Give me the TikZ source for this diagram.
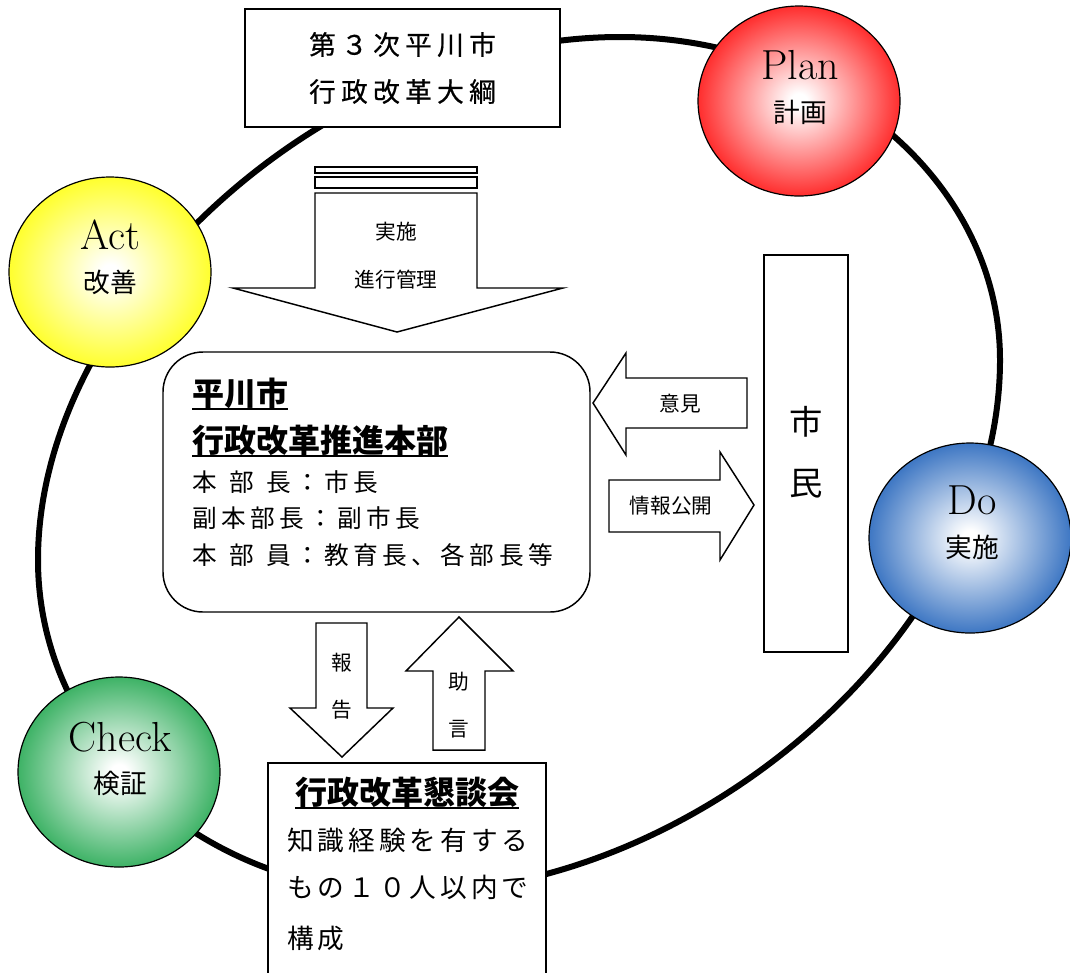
\documentclass[tikz,border=0pt]{standalone}
\usepackage{fontspec}
\usepackage{tikz}
\usetikzlibrary{shapes.geometric}

\newfontfamily\jp{Noto Sans CJK JP}
\newfontfamily\jpwide{Noto Sans CJK JP}[LetterSpace=20, FakeBold=0.6]
\newfontfamily\jpmid{Noto Sans CJK JP}[LetterSpace=18]
\newfontfamily\jpsoft{Noto Sans CJK JP}[LetterSpace=15]

\definecolor{planred}{RGB}{255,0,0}
\definecolor{actyellow}{RGB}{255,255,0}
\definecolor{doblue}{RGB}{28,95,185}
\definecolor{checkgreen}{RGB}{28,165,75}

\pgfdeclareradialshading{planball}{\pgfpoint{0bp}{0bp}}{color(0bp)=(white); color(2bp)=(white); color(30bp)=(planred); color(50bp)=(planred)}
\pgfdeclareradialshading{actball}{\pgfpoint{0bp}{0bp}}{color(0bp)=(white); color(2bp)=(white); color(30bp)=(actyellow); color(50bp)=(actyellow)}
\pgfdeclareradialshading{doball}{\pgfpoint{0bp}{0bp}}{color(0bp)=(white); color(2bp)=(white); color(29bp)=(doblue); color(50bp)=(doblue)}
\pgfdeclareradialshading{checkball}{\pgfpoint{0bp}{0bp}}{color(0bp)=(white); color(2bp)=(white); color(29bp)=(checkgreen); color(50bp)=(checkgreen)}

\newcommand{\ulbox}[1]{\setbox0\hbox{#1}\rlap{\smash{\rule[-3.5pt]{\wd0}{1.5pt}}}\box0}

\tikzset{
  ring/.style={line width=4.5pt},
  box/.style={draw, line width=1.1pt, fill=white},
  blockarrow/.style={draw, line width=1.1pt, fill=white, line join=miter},
  ball/.style={ellipse, draw, line width=0.9pt, minimum width=151.5pt, minimum height=142.5pt, inner sep=0pt, shading=#1},
  balltext/.style={font=\fontsize{31.5}{31.5}\selectfont, inner sep=0pt},
  balljp/.style={font=\jp\fontsize{20}{20}\selectfont, inner sep=0pt},
  armlabel/.style={font=\jp\fontsize{15.5}{15.5}\selectfont, inner sep=0pt},
  headjp/.style={font=\jp\bfseries\fontsize{24}{24}\selectfont, inner sep=0pt},
  bodyjp/.style={font=\jpmid\fontsize{18.5}{18.5}\selectfont, inner sep=0pt, anchor=west},
  softjp/.style={font=\jpsoft\fontsize{20}{20}\selectfont, inner sep=0pt, anchor=west}
}

\begin{document}
\begin{tikzpicture}[x=0.75pt,y=-0.75pt]
\useasboundingbox (0,0) rectangle (1070,972);
%PDCA ring
\draw[ring] (620,37) .. controls (830,37) and (1000,182) .. (1000,360)
  .. controls (1000,630) and (700,893) .. (407,893)
  .. controls (203,893) and (38,744) .. (38,560)
  .. controls (38,300) and (330,37) .. cycle;

%Boxes
\draw[box] (245,9) rectangle node[align=center, font=\jpwide\fontsize{20}{35.25}\selectfont] (taiko) {第３次平川市\\行政改革大綱} (560,127);
\draw[box, rounded corners=30pt] (163,352) rectangle (590,612);
\node[headjp, anchor=west] (hq1) at (192,393) {\ulbox{平川市}};
\node[headjp, anchor=west] (hq2) at (192,440) {\ulbox{行政改革推進本部}};
\node[bodyjp] (hq3) at (192,482) {本\hspace{.5em}部\hspace{.5em}長：市長};
\node[bodyjp] (hq4) at (192,518) {副本部長：副市長};
\node[bodyjp] (hq5) at (192,555) {本\hspace{.5em}部\hspace{.5em}員：教育長、各部長等};

\draw[box] (764,255) rectangle (848,652);
\node[font=\jp\fontsize{25}{25}\selectfont, inner sep=0pt] (shi) at (806,422) {市};
\node[font=\jp\fontsize{25}{25}\selectfont, inner sep=0pt] (min) at (806,484) {民};

\draw[box] (268,763) rectangle (546,990);
\node[headjp] (kondan) at (407,792) {\ulbox{行政改革懇談会}};
\node[softjp] (kd1) at (287,840) {知識経験を有する};
\node[softjp] (kd2) at (287,887) {もの１０人以内で};
\node[softjp] (kd3) at (287,938) {構成};

%PDCA balls
\node[ball=planball] (plan) at (799,101) {};
\node[balltext] (planen) at (800,65) {Plan};
\node[balljp] (planjp) at (800,112) {計画};
\node[ball=doball] (do) at (970,538) {};
\node[balltext] (doen) at (972,500) {Do};
\node[balljp] (dojp) at (972,547) {実施};
\node[ball=checkball] (check) at (119,772) {};
\node[balltext] (checken) at (120,737) {Check};
\node[balljp] (checkjp) at (120,783) {検証};
\node[ball=actball] (act) at (110,272) {};
\node[balltext] (acten) at (110,235) {Act};
\node[balljp] (actjp) at (110,282) {改善};

%Drawing arrows
\draw[blockarrow] (315,167) rectangle (477,173);
\draw[blockarrow] (315,177) rectangle (477,188);
\draw[blockarrow] (315,193) -- (315,288) -- (233,288) -- (397,332) -- (563,288) -- (477,288) -- (477,193) -- cycle;
\node[armlabel] (jisshi) at (396,232) {実施};
\node[armlabel] (shinko) at (396,280) {進行管理};

\draw[blockarrow] (593,403) -- (626,353) -- (626,378) -- (747,378) -- (747,428) -- (626,428) -- (626,455) -- cycle;
\node[armlabel] (iken) at (680,404) {意見};
\draw[blockarrow] (609,480) -- (720,480) -- (720,452) -- (754,505) -- (720,560) -- (720,532) -- (609,532) -- cycle;
\node[armlabel] (koukai) at (671,506) {情報公開};

\draw[blockarrow] (316,623) -- (367,623) -- (367,708) -- (393,708) -- (342,757) -- (290,708) -- (316,708) -- cycle;
\node[armlabel] (hou) at (342,663) {報};
\node[armlabel] (koku) at (342,710) {告};
\draw[blockarrow] (459,617) -- (513,671) -- (485,671) -- (485,750) -- (433,750) -- (433,671) -- (406,671) -- cycle;
\node[armlabel] (jo) at (459,682) {助};
\node[armlabel] (gen) at (459,729) {言};
\end{tikzpicture}
\end{document}
